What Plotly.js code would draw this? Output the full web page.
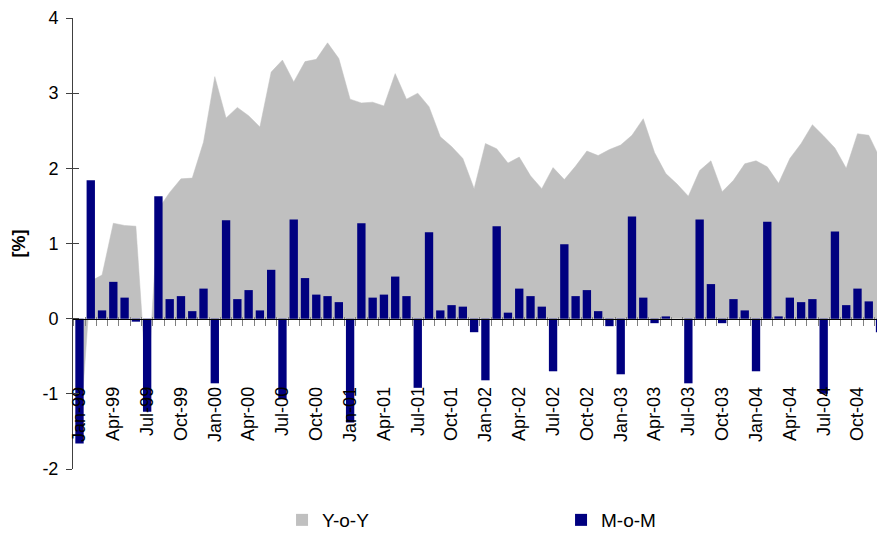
<!DOCTYPE html>
<html>
<head>
<meta charset="utf-8">
<script src="https://cdn.plot.ly/plotly-3.0.1.min.js"></script>
<style>html,body{margin:0;padding:0;background:#fff;}#chart{width:877px;height:533px;}</style>
</head>
<body>
<div id="chart"></div>
<script>
// Months Jan-99 .. Dec-04
const months = [
  "Jan-99","Feb-99","Mar-99","Apr-99","May-99","Jun-99","Jul-99","Aug-99","Sep-99","Oct-99","Nov-99","Dec-99",
  "Jan-00","Feb-00","Mar-00","Apr-00","May-00","Jun-00","Jul-00","Aug-00","Sep-00","Oct-00","Nov-00","Dec-00",
  "Jan-01","Feb-01","Mar-01","Apr-01","May-01","Jun-01","Jul-01","Aug-01","Sep-01","Oct-01","Nov-01","Dec-01",
  "Jan-02","Feb-02","Mar-02","Apr-02","May-02","Jun-02","Jul-02","Aug-02","Sep-02","Oct-02","Nov-02","Dec-02",
  "Jan-03","Feb-03","Mar-03","Apr-03","May-03","Jun-03","Jul-03","Aug-03","Sep-03","Oct-03","Nov-03","Dec-03",
  "Jan-04","Feb-04","Mar-04","Apr-04","May-04","Jun-04","Jul-04","Aug-04","Sep-04","Oct-04","Nov-04","Dec-04"
];

const yoy = [
  -1.60, 0.50, 0.58, 1.27, 1.24, 1.23, -1.00, 1.46, 1.68, 1.86, 1.87, 2.35,
  3.22, 2.67, 2.81, 2.70, 2.55, 3.28, 3.44, 3.15, 3.42, 3.45, 3.67, 3.46,
  2.92, 2.87, 2.88, 2.83, 3.26, 2.92, 3.00, 2.82, 2.42, 2.29, 2.13, 1.73,
  2.33, 2.26, 2.07, 2.15, 1.90, 1.73, 2.01, 1.85, 2.03, 2.23, 2.17, 2.25,
  2.31, 2.44, 2.66, 2.21, 1.93, 1.79, 1.63, 1.97, 2.10, 1.69, 1.84, 2.06,
  2.10, 2.02, 1.80, 2.13, 2.33, 2.58, 2.43, 2.27, 2.00, 2.46, 2.44, 2.13
];

const mom = [
  -1.66, 1.84, 0.11, 0.49, 0.28, -0.04, -1.24, 1.63, 0.26, 0.30, 0.10, 0.40,
  -0.86, 1.31, 0.26, 0.38, 0.11, 0.65, -1.07, 1.32, 0.54, 0.32, 0.30, 0.22,
  -1.38, 1.27, 0.28, 0.32, 0.56, 0.30, -0.92, 1.15, 0.11, 0.18, 0.16, -0.18,
  -0.82, 1.23, 0.08, 0.40, 0.30, 0.16, -0.70, 0.99, 0.30, 0.38, 0.10, -0.10,
  -0.74, 1.36, 0.28, -0.06, 0.03, 0.00, -0.86, 1.32, 0.46, -0.06, 0.26, 0.11,
  -0.70, 1.29, 0.03, 0.28, 0.22, 0.26, -1.00, 1.16, 0.18, 0.40, 0.23, -0.18
];

const yTicks = [-2, -1, 0, 1, 2, 3, 4];
const yTickText = ["-2", "-1", "0", "1", "2", "3", "4"];
const labelEvery = 3;

// derived positions from the category list
const xIdx = months.map((m, i) => i);
const labelVals = xIdx.filter(i => i % labelEvery === 0);
const labelText = labelVals.map(i => months[i]);
const boundaries = [];
for (let i = 0; i <= months.length; i++) boundaries.push(i - 0.5);

const xRange = [-0.576, 70.73];
const yRange = [-2, 4];
const zeroPos = (0 - yRange[0]) / (yRange[1] - yRange[0]);
const FONT = '"Liberation Sans", Arial, sans-serif';

const traces = [
  {
    type: 'scatter', mode: 'lines', name: 'Y-o-Y',
    x: xIdx, y: yoy, fill: 'tozeroy',
    fillcolor: '#C0C0C0', line: {color: '#C0C0C0', width: 0.5},
    xaxis: 'x', yaxis: 'y', showlegend: false, hoverinfo: 'skip'
  },
  {
    type: 'bar', name: 'Y-o-Y', x: [null], y: [null],
    marker: {color: '#C0C0C0'}, xaxis: 'x2', yaxis: 'y2', showlegend: true
  },
  {
    type: 'bar', name: 'M-o-M', x: xIdx, y: mom,
    marker: {color: '#000080', line: {width: 0}},
    xaxis: 'x2', yaxis: 'y2'
  }
];

const layout = {
  width: 877, height: 533,
  margin: {l: 73, r: 0, t: 18, b: 64, autoexpand: false},
  paper_bgcolor: '#fff', plot_bgcolor: 'rgba(0,0,0,0)',
  font: {family: FONT, color: '#000', size: 18},
  bargap: 0.26,
  showlegend: true,
  legend: {
    orientation: 'h', x: 0.26, xanchor: 'left', y: -0.071, yanchor: 'top',
    entrywidthmode: 'pixels', entrywidth: 234,
    font: {family: FONT, size: 19, color: '#000'},
    bgcolor: 'rgba(0,0,0,0)', borderwidth: 0, traceorder: 'normal'
  },
  xaxis: {
    range: xRange, anchor: 'free', position: zeroPos,
    showline: true, linecolor: '#000', linewidth: 1,
    showgrid: false, zeroline: false,
    tickmode: 'array', tickvals: labelVals, ticktext: labelText,
    tickangle: -90, ticks: '', ticklabelstandoff: 60,
    tickfont: {family: FONT, size: 18, color: '#000'},
    minor: {tickmode: 'array', tickvals: boundaries, ticks: 'outside', ticklen: 6, tickcolor: '#808080', tickwidth: 1, showgrid: false}
  },
  yaxis: {
    range: yRange, showline: true, linecolor: '#404040', linewidth: 1,
    showgrid: false, zeroline: false,
    tickmode: 'array', tickvals: yTicks, ticktext: yTickText,
    ticks: 'outside', ticklen: 6, tickcolor: '#404040',
    ticklabelstandoff: 4,
    tickfont: {family: FONT, size: 18, color: '#000'},
    title: {text: '[%]', standoff: 12, font: {family: FONT, size: 18, color: '#000', weight: 'bold'}}
  },
  xaxis2: {
    range: xRange, overlaying: 'x', anchor: 'free', position: zeroPos,
    showline: false, showgrid: false, zeroline: false, showticklabels: false,
    tickmode: 'array', tickvals: boundaries, ticks: 'inside', ticklen: 2, tickcolor: '#808080'
  },
  yaxis2: {
    range: yRange, overlaying: 'y', side: 'left',
    showline: false, showgrid: false, zeroline: false, showticklabels: false,
    tickmode: 'array', tickvals: yTicks, ticks: 'inside', ticklen: 6, tickcolor: '#404040'
  }
};

Plotly.newPlot('chart', traces, layout, {displayModeBar: false, staticPlot: true});
</script>
</body>
</html>
